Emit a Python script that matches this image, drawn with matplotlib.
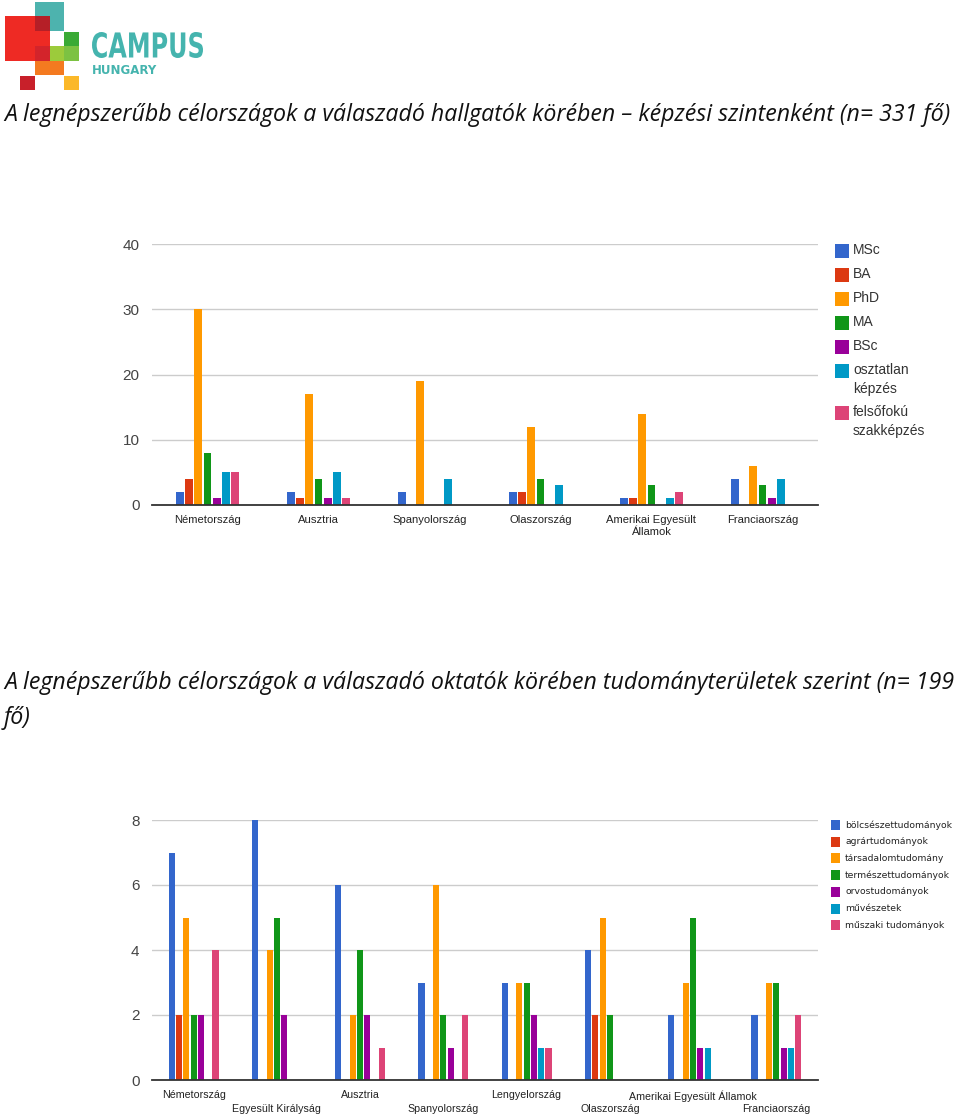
import numpy as np
import matplotlib
matplotlib.use("Agg")
import matplotlib.pyplot as plt
from matplotlib.patches import Rectangle, PathPatch
from matplotlib.textpath import TextPath
from matplotlib.font_manager import FontProperties
from matplotlib.transforms import Affine2D

# ---- data: students by level of study ----
countries_students = ["Németország", "Ausztria", "Spanyolország", "Olaszország",
                      "Amerikai Egyesült\nÁllamok", "Franciaország"]
levels = ["MSc", "BA", "PhD", "MA", "BSc", "osztatlan\nképzés", "felsőfokú\nszakképzés"]
msc = [2, 2, 2, 2, 1, 4]
ba = [4, 1, 0, 2, 1, 0]
phd = [30, 17, 19, 12, 14, 6]
ma = [8, 4, 0, 4, 3, 3]
bsc = [1, 1, 0, 0, 0, 1]
osztatlan = [5, 5, 4, 3, 1, 4]
felsofoku = [5, 1, 0, 0, 2, 0]
students_yticks = [0, 10, 20, 30, 40]

# ---- data: teachers by field of science ----
countries_teachers = ["Németország", "Egyesült Királyság", "Ausztria", "Spanyolország",
                      "Lengyelország", "Olaszország", "Amerikai Egyesült Államok", "Franciaország"]
fields = ["bölcsészettudományok", "agrártudományok", "társadalomtudomány",
          "természettudományok", "orvostudományok", "művészetek", "műszaki tudományok"]
bolcsesz = [7, 8, 6, 3, 3, 4, 2, 2]
agrar = [2, 0, 0, 0, 0, 2, 0, 0]
tarsadalom = [5, 4, 2, 6, 3, 5, 3, 3]
termeszet = [2, 5, 4, 2, 3, 2, 5, 3]
orvos = [2, 2, 2, 1, 2, 0, 1, 1]
muveszet = [0, 0, 0, 0, 1, 0, 1, 1]
muszaki = [4, 0, 1, 2, 1, 0, 0, 2]
teachers_yticks = [0, 2, 4, 6, 8]

colors = ["#3366cc", "#dc3912", "#ff9900", "#109618", "#990099", "#0099c6", "#dd4477"]

W, H = 960, 1119
fig = plt.figure(figsize=(W / 100, H / 100), dpi=100)

# background axes in pixel coordinates for logo and titles
bg = fig.add_axes([0, 0, 1, 1])
bg.set_xlim(0, W)
bg.set_ylim(H, 0)
bg.axis("off")

# logo squares (x, y, w, h, colour)
logo = [
    (35, 2, 29, 29, "#4db3ae"),
    (5, 16, 45, 45, "#ee2a24"),
    (35, 16, 15, 15, "#b51f27"),
    (64, 32, 15, 14, "#3aaa35"),
    (50, 46, 15, 15, "#9ccb3b"),
    (64, 46, 15, 15, "#7cc242"),
    (35, 46, 15, 15, "#d3242b"),
    (35, 61, 29, 14, "#f47a20"),
    (20, 76, 15, 14, "#c8202a"),
    (64, 76, 15, 14, "#fbb829"),
]
for x, y, w, h, c in logo:
    bg.add_patch(Rectangle((x, y), w, h, color=c, lw=0))

# condensed "CAMPUS" word mark: squeeze a bold text path horizontally
tp = TextPath((0, 0), "CAMPUS", size=10,
              prop=FontProperties(family="DejaVu Sans", weight="bold"))
ext = tp.get_extents()
sx = 111 / ext.width
sy = 26 / ext.height
tr = Affine2D().translate(-ext.x0, -ext.y0).scale(sx, -sy).translate(92, 58)
bg.add_patch(PathPatch(tr.transform_path(tp), color="#45b4ae", lw=0))
bg.text(92, 71, "HUNGARY", color="#45b4ae", fontsize=8.5, fontweight="bold",
        family="DejaVu Sans", va="center", ha="left")

title_font = dict(family="Open Sans", style="italic", fontsize=16.65, color="#111111")
bg.text(4, 115, "A legnépszerűbb célországok a válaszadó hallgatók körében – "
        "képzési szintenként (n= 331 fő)", va="center", ha="left", **title_font)
bg.text(4, 683, "A legnépszerűbb célországok a válaszadó oktatók körében "
        "tudományterületek szerint (n= 199", va="center", ha="left", **title_font)
bg.text(4, 718, "fő)", va="center", ha="left", **title_font)


def bar_chart(ax, series, cats, group_frac, yticks, stagger, label_size):
    n = len(series)
    x = np.arange(len(cats))
    slot = group_frac / n
    for i, vals in enumerate(series):
        offs = (i - (n - 1) / 2) * slot
        ax.bar(x + offs, vals, width=slot * 0.86, color=colors[i], zorder=3)
    ax.set_xlim(-0.5, len(cats) - 0.5)
    ax.set_ylim(0, yticks[-1])
    ax.set_yticks(yticks)
    ax.set_yticklabels([str(t) for t in yticks], fontsize=11, color="#444444",
                       family="Liberation Sans")
    ax.yaxis.grid(True, color="#cccccc", lw=1, zorder=0)
    for s in ["top", "right", "left"]:
        ax.spines[s].set_visible(False)
    ax.spines["bottom"].set_color("#333333")
    ax.spines["bottom"].set_linewidth(1.3)
    ax.spines["bottom"].set_zorder(4)
    ax.tick_params(axis="y", length=0, pad=9)
    ax.tick_params(axis="x", length=0)
    ax.set_xticks([])
    for i, c in enumerate(cats):
        dy = 14 if (stagger and i % 2 == 1) else 0
        ax.annotate(c, (i, 0), xycoords=("data", "axes fraction"),
                    xytext=(0, -7.5 - dy * 0.72), textcoords="offset points",
                    ha="center", va="top", fontsize=label_size, color="#222222",
                    family="Liberation Sans", linespacing=1.25)


ax1 = fig.add_axes([152 / W, 1 - 505 / H, 666 / W, 261 / H])
bar_chart(ax1, [msc, ba, phd, ma, bsc, osztatlan, felsofoku], countries_students,
          0.58, students_yticks, False, 8.1)

ax2 = fig.add_axes([152 / W, 1 - 1080 / H, 666 / W, 260 / H])
bar_chart(ax2, [bolcsesz, agrar, tarsadalom, termeszet, orvos, muveszet, muszaki],
          countries_teachers, 0.61, teachers_yticks, True, 7.7)

# top legend
y = 251
for i, name in enumerate(levels):
    bg.add_patch(Rectangle((835, y - 7), 14, 14, color=colors[i], lw=0))
    bg.text(853, y - 8, name, fontsize=10, color="#333333", family="Liberation Sans",
            va="top", ha="left", linespacing=1.45)
    y += 24 if "\n" not in name else 42

# bottom legend
y = 825
for i, name in enumerate(fields):
    bg.add_patch(Rectangle((831, y - 5), 9, 10, color=colors[i], lw=0))
    bg.text(845, y, name, fontsize=6.7, color="#222222", family="DejaVu Sans",
            va="center", ha="left")
    y += 16.7

fig.savefig("out.png", dpi=100)
